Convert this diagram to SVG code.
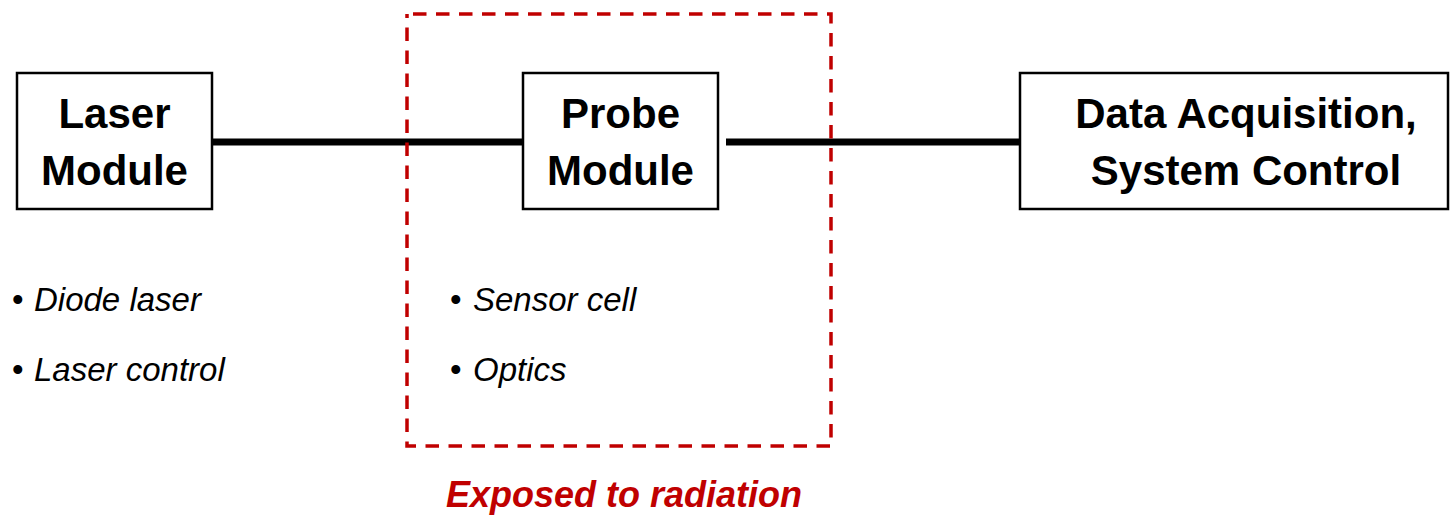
<svg xmlns="http://www.w3.org/2000/svg" width="1450" height="515" viewBox="0 0 1450 515">
<style>
.box{fill:#fff;stroke:#000;stroke-width:2.5}
.title{font-family:"Liberation Sans",Arial,sans-serif;font-weight:bold;font-size:42px;fill:#000;text-anchor:middle}
.item{font-family:"Liberation Sans",Arial,sans-serif;font-style:italic;font-size:33px;fill:#000}
.bul{font-style:normal}
.conn{stroke:#000;stroke-width:7;fill:none}
.zone{fill:none;stroke:#C00000;stroke-width:3.5;stroke-dasharray:13.5 9.5;stroke-dashoffset:-6}
.zlabel{font-family:"Liberation Sans",Arial,sans-serif;font-weight:bold;font-style:italic;font-size:36px;fill:#C00000;text-anchor:middle}
</style>
<rect width="1450" height="515" fill="#fff"/>
<g id="connectors">
<line class="conn" x1="212" y1="142" x2="523" y2="142"/>
<line class="conn" x1="726" y1="142" x2="1020" y2="142"/>
</g>
<g id="laser">
<rect class="box" x="17" y="73" width="195" height="136"/>
<text class="title" x="114.5" y="128">Laser</text>
<text class="title" x="114.5" y="185">Module</text>
</g>
<g id="probe">
<rect class="box" x="523" y="73" width="195" height="136"/>
<text class="title" x="620.5" y="128">Probe</text>
<text class="title" x="620.5" y="185">Module</text>
</g>
<g id="daq">
<rect class="box" x="1020" y="73" width="428" height="136"/>
<text class="title" x="1246" y="128">Data Acquisition,</text>
<text class="title" x="1246" y="185">System Control</text>
</g>
<g id="laser-items">
<text class="item" x="12" y="311"><tspan class="bul">•</tspan><tspan x="34">Diode laser</tspan></text>
<text class="item" x="12" y="381"><tspan class="bul">•</tspan><tspan x="34">Laser control</tspan></text>
</g>
<g id="radiation-zone">
<rect class="zone" x="407" y="14" width="424" height="432"/>
<text class="item" x="450" y="311"><tspan class="bul">•</tspan><tspan x="473">Sensor cell</tspan></text>
<text class="item" x="450" y="381"><tspan class="bul">•</tspan><tspan x="473">Optics</tspan></text>
<text class="zlabel" x="624" y="507">Exposed to radiation</text>
</g>
</svg>
